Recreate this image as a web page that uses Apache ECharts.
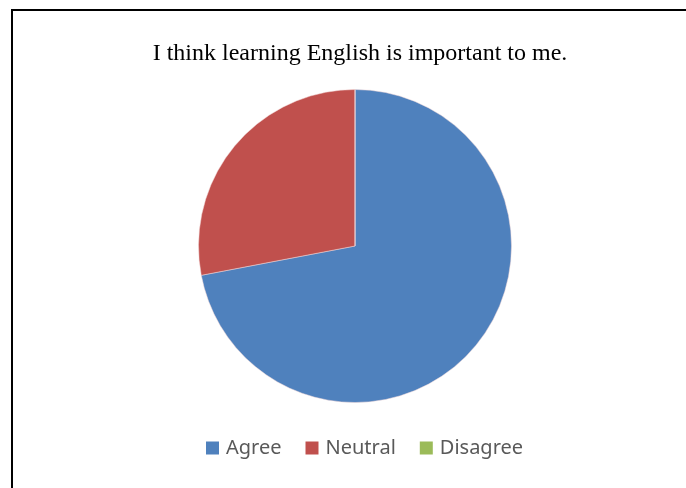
<!DOCTYPE html>
<html>
<head>
<meta charset="utf-8">
<script src="https://cdn.jsdelivr.net/npm/echarts@6/dist/echarts.min.js"></script>
<style>
  html, body { margin: 0; padding: 0; background: #fff; }
  #chart { width: 686px; height: 488px; }
</style>
</head>
<body>
<div id="chart"></div>
<script>
// Survey responses for one statement
const titleText = 'I think learning English is important to me.';
const categories = ['Agree', 'Neutral', 'Disagree'];
const values = [18, 7, 0];
const colors = ['#4F81BD', '#C0504D', '#9BBB59'];

const chart = echarts.init(document.getElementById('chart'));

const pieData = categories.map((name, i) => ({
  name: name,
  value: values[i],
  itemStyle: { color: colors[i] }
}));

chart.setOption({
  animation: false,
  backgroundColor: '#ffffff',
  title: {
    text: titleText,
    left: 355,
    textAlign: 'center',
    top: 37,
    textStyle: {
      fontFamily: 'Liberation Serif',
      fontWeight: 'normal',
      fontSize: 24,
      color: '#000000'
    }
  },
  legend: {
    data: categories,
    left: 206,
    top: 438,
    padding: 0,
    icon: 'rect',
    itemWidth: 13,
    itemHeight: 13,
    itemGap: 24,
    itemStyle: { borderWidth: 0 },
    textStyle: {
      fontFamily: 'Noto Sans',
      fontSize: 20,
      color: '#595959',
      padding: [0, 0, 0, 2]
    }
  },
  graphic: [{
    type: 'polyline',
    shape: { points: [[12, 500], [12, 10], [700, 10]] },
    style: { stroke: '#000000', lineWidth: 2, fill: null },
    silent: true
  }],
  series: [{
    type: 'pie',
    center: [355, 246],
    radius: 156.5,
    startAngle: 90,
    clockwise: true,
    label: { show: false },
    labelLine: { show: false },
    itemStyle: { borderColor: '#f2d9d8', borderWidth: 0.5 },
    emphasis: { disabled: true },
    data: pieData
  }]
});
</script>
</body>
</html>
